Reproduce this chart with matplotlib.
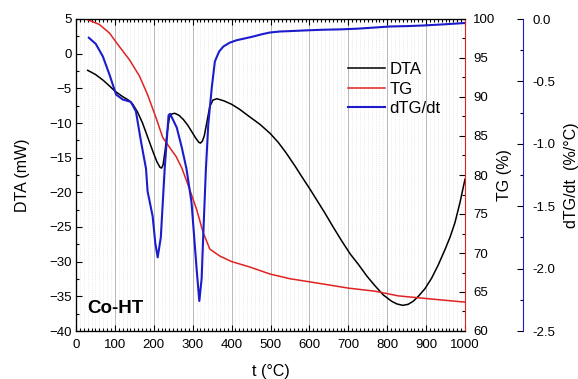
import numpy as np
import matplotlib.pyplot as plt
from matplotlib.ticker import MultipleLocator, FormatStrFormatter

plt.rcParams['font.family'] = ['Liberation Sans', 'DejaVu Sans']

# DTA curve (mW)
t_dta = [30, 50, 69, 85, 100, 120, 135, 146, 158, 171, 184, 197, 208, 216, 220, 224,
         229, 234, 240, 246, 254, 265, 276, 287, 297, 308, 316, 320, 325, 330, 336,
         344, 352, 362, 380, 400, 420, 439, 456, 473, 499, 520, 540, 563, 580, 601,
         620, 640, 660, 683, 705, 726, 748, 769, 790, 811, 825, 840, 854, 867, 880,
         897, 914, 931, 949, 962, 974, 987, 1000]
dta = [-2.4, -3.0, -3.8, -4.6, -5.4, -6.2, -6.7, -7.3, -8.4, -10.0, -12.0, -14.0,
       -15.6, -16.4, -16.5, -16.0, -14.0, -11.5, -9.2, -8.7, -8.6, -8.9, -9.5, -10.3,
       -11.2, -12.2, -12.8, -12.9, -12.6, -11.8, -10.0, -7.6, -6.7, -6.5, -6.8, -7.3,
       -8.0, -8.8, -9.5, -10.2, -11.5, -12.8, -14.3, -16.2, -17.7, -19.5, -21.2, -23.0,
       -24.9, -27.0, -28.9, -30.4, -32.1, -33.5, -34.8, -35.7, -36.1, -36.3, -36.15,
       -35.7, -35.0, -33.9, -32.4, -30.5, -28.2, -26.4, -24.4, -21.5, -18.1]

# TG curve (%)
t_tg = [30, 60, 86, 111, 137, 163, 184, 206, 223, 244, 257, 272, 289, 310, 327,
        344, 370, 400, 447, 499, 550, 601, 700, 769, 829, 914, 1000]
tg = [99.9, 99.3, 98.2, 96.5, 94.8, 92.7, 90.3, 87.3, 84.8, 83.3, 82.4, 80.9, 78.6,
      75.6, 72.6, 70.5, 69.6, 68.9, 68.2, 67.3, 66.7, 66.3, 65.5, 65.1, 64.5, 64.1, 63.7]

# dTG/dt curve (%/°C)
t_dtg = [33, 51, 69, 86, 103, 120, 141, 154, 167, 180, 184, 197, 204, 210, 218, 228,
         238, 242, 259, 272, 284, 297, 310, 317, 323, 327, 334, 340, 349, 357, 368,
         379, 395, 413, 435, 456, 478, 499, 525, 550, 600, 636, 680, 721, 760, 807,
         850, 893, 950, 1000]
dtg = [-0.15, -0.2, -0.3, -0.445, -0.605, -0.645, -0.664, -0.74, -0.98, -1.2, -1.38,
       -1.58, -1.8, -1.91, -1.75, -1.2, -0.77, -0.76, -0.87, -1.03, -1.2, -1.47, -2.0,
       -2.26, -2.08, -1.74, -1.2, -0.845, -0.55, -0.34, -0.26, -0.22, -0.19, -0.17,
       -0.155, -0.14, -0.122, -0.108, -0.1, -0.097, -0.09, -0.086, -0.083, -0.078,
       -0.07, -0.06, -0.057, -0.052, -0.042, -0.032]

red = '#e02222'
blue = '#1c1ccc'

fig = plt.figure(figsize=(5.78, 3.79), dpi=100)
ax = fig.add_axes([76/578, 1-331/379, 389/578, 312/379])
ax2 = ax.twinx()
ax3 = ax.twinx()

l1, = ax.plot(t_dta, dta, color='black', lw=1.1, label='DTA')
l2, = ax2.plot(t_tg, tg, color=red, lw=1.1, label='TG')
l3, = ax3.plot(t_dtg, dtg, color=blue, lw=1.5, label='dTG/dt')

# main axis
ax.set_xlim(0, 1000)
ax.set_ylim(-40, 5)
ax.xaxis.set_major_locator(MultipleLocator(100))
ax.xaxis.set_minor_locator(MultipleLocator(10))
ax.yaxis.set_major_locator(MultipleLocator(5))
ax.yaxis.set_minor_locator(MultipleLocator(2.5))
ax.tick_params(which='both', direction='in', top=True, labelsize=9.5, width=0.8)
ax.tick_params(which='major', length=4)
ax.tick_params(which='minor', length=2.2)
ax.tick_params(axis='x', pad=6)
ax.tick_params(axis='y', pad=3)
ax.grid(True, axis='x', which='major', color='#b8b8b8', lw=0.7)
ax.grid(True, axis='x', which='minor', color='#dcdcdc', lw=0.5, ls=':')
ax.set_axisbelow(True)
ax.set_xlabel('t (°C)', fontsize=11.5, labelpad=9)
ax.set_ylabel('DTA (mW)', fontsize=11.5, labelpad=14)
ax.spines['right'].set_visible(False)

# TG axis
ax2.set_ylim(60, 100)
ax2.yaxis.set_major_locator(MultipleLocator(5))
ax2.yaxis.set_minor_locator(MultipleLocator(2.5))
ax2.tick_params(which='both', direction='in', labelsize=9.5, width=0.8, pad=6)
ax2.tick_params(which='major', length=4)
ax2.tick_params(which='minor', length=2.2)
ax2.spines['right'].set_color(red)
ax2.set_ylabel('TG (%)', fontsize=11.5, labelpad=1)

# dTG/dt axis
ax3.set_ylim(-2.5, 0)
ax3.spines['right'].set_position(('axes', 1.149))
ax3.spines['right'].set_color(blue)
ax3.yaxis.set_major_locator(MultipleLocator(0.5))
ax3.yaxis.set_minor_locator(MultipleLocator(0.25))
ax3.yaxis.set_major_formatter(FormatStrFormatter('%.1f'))
ax3.tick_params(which='both', direction='in', labelsize=9.5, width=0.8, pad=7)
ax3.tick_params(which='major', length=4)
ax3.tick_params(which='minor', length=2.2)
ax3.set_ylabel('dTG/dt  (%/°C)', fontsize=11.5, labelpad=6)

ax.text(30, -36.8, 'Co-HT', fontsize=13.5, fontweight='bold', va='center')

fig.legend(handles=[l1, l2, l3], loc='upper left', bbox_to_anchor=(348/578, 1-62/379),
           frameon=False, fontsize=12, handlelength=2.2, handletextpad=0.3,
           labelspacing=0.27, borderpad=0, borderaxespad=0)

fig.savefig('out.png', dpi=100)
